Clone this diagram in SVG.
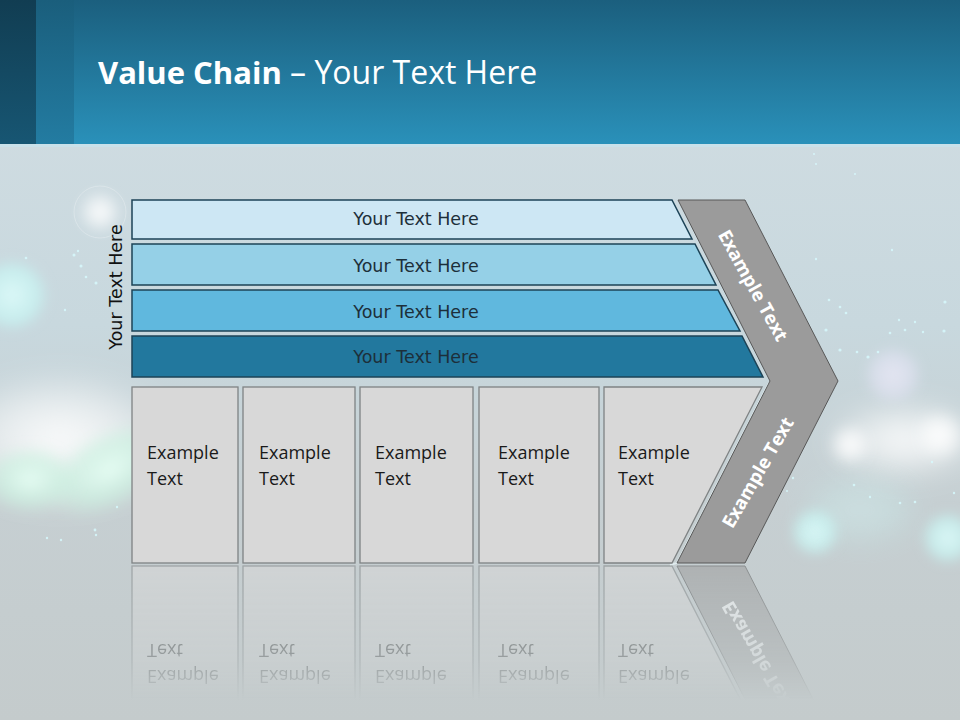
<svg xmlns="http://www.w3.org/2000/svg" xmlns:xlink="http://www.w3.org/1999/xlink" width="960" height="720" viewBox="0 0 960 720">
  <defs>
    <linearGradient id="bg" x1="0" y1="0" x2="0" y2="1">
      <stop offset="0" stop-color="#d3dee3"/>
      <stop offset="0.45" stop-color="#c8d8de"/>
      <stop offset="0.7" stop-color="#c6cfd2"/>
      <stop offset="1" stop-color="#c4cbcc"/>
    </linearGradient>
    <linearGradient id="banner" x1="0" y1="0" x2="0" y2="1">
      <stop offset="0" stop-color="#1b5f7e"/>
      <stop offset="1" stop-color="#2a91ba"/>
    </linearGradient>
    <linearGradient id="strip1" x1="0" y1="0" x2="0" y2="1">
      <stop offset="0" stop-color="#113d52"/>
      <stop offset="1" stop-color="#175673"/>
    </linearGradient>
    <linearGradient id="strip2" x1="0" y1="0" x2="0" y2="1">
      <stop offset="0" stop-color="#1a5e7c"/>
      <stop offset="1" stop-color="#237ca2"/>
    </linearGradient>
    <radialGradient id="glowW">
      <stop offset="0" stop-color="#ffffff" stop-opacity="0.95"/>
      <stop offset="0.6" stop-color="#ffffff" stop-opacity="0.5"/>
      <stop offset="1" stop-color="#ffffff" stop-opacity="0"/>
    </radialGradient>
    <radialGradient id="glowC">
      <stop offset="0" stop-color="#dffcfb" stop-opacity="0.9"/>
      <stop offset="0.75" stop-color="#c6f5f3" stop-opacity="0.7"/>
      <stop offset="1" stop-color="#c6f5f3" stop-opacity="0"/>
    </radialGradient>
    <radialGradient id="glowG">
      <stop offset="0" stop-color="#e6fff4" stop-opacity="0.9"/>
      <stop offset="0.6" stop-color="#c9f3e0" stop-opacity="0.6"/>
      <stop offset="1" stop-color="#c9f3e0" stop-opacity="0"/>
    </radialGradient>
    <radialGradient id="glowV">
      <stop offset="0" stop-color="#eceaf8" stop-opacity="0.8"/>
      <stop offset="0.8" stop-color="#e4e4f6" stop-opacity="0.5"/>
      <stop offset="1" stop-color="#e4e4f6" stop-opacity="0"/>
    </radialGradient>
    <filter id="blur" x="-50%" y="-50%" width="200%" height="200%">
      <feGaussianBlur stdDeviation="6"/>
    </filter>
    <filter id="blur2" x="-50%" y="-50%" width="200%" height="200%">
      <feGaussianBlur stdDeviation="14"/>
    </filter>
    <linearGradient id="fade" x1="0" y1="565" x2="0" y2="700" gradientUnits="userSpaceOnUse">
      <stop offset="0" stop-color="#fff" stop-opacity="0.55"/>
      <stop offset="0.7" stop-color="#fff" stop-opacity="0.25"/>
      <stop offset="1" stop-color="#fff" stop-opacity="0"/>
    </linearGradient>
    <mask id="reflMask" maskUnits="userSpaceOnUse" x="0" y="560" width="960" height="160">
      <rect x="0" y="560" width="960" height="160" fill="url(#fade)"/>
    </mask>
    <style>
      .bar { stroke: #1c4357; stroke-width: 1.5; }
      .barTxt { font-family: "DejaVu Sans", Verdana, sans-serif; font-size: 17.5px; fill: #1d2f3a; text-anchor: middle; }
      .box { fill: #d8d8d8; stroke: #7f8384; stroke-width: 1.3; }
      .boxTxt { font-family: "Open Sans", "Liberation Sans", sans-serif; font-size: 18px; fill: #1a1a1a; }
      .chev { fill: #9b9b9b; stroke: #585858; stroke-width: 1; }
      .chevTxt { font-family: "Open Sans", "Liberation Sans", sans-serif; font-size: 18.5px; font-weight: bold; fill: #ffffff; text-anchor: middle; }
      .dot { fill: #d8fbff; }
    </style>
  </defs>

  <!-- background -->
  <rect x="0" y="0" width="960" height="720" fill="url(#bg)"/>
  <g id="bokeh">
    <ellipse cx="60" cy="440" rx="120" ry="70" fill="url(#glowW)" filter="url(#blur2)"/>
    <ellipse cx="110" cy="470" rx="70" ry="40" fill="url(#glowG)" filter="url(#blur)" transform="rotate(-30 110 470)"/>
    <ellipse cx="30" cy="480" rx="50" ry="35" fill="url(#glowG)" filter="url(#blur)"/>
    <circle cx="12" cy="295" r="36" fill="url(#glowC)" filter="url(#blur)"/>
    <circle cx="100" cy="212" r="22" fill="url(#glowW)" filter="url(#blur)"/>
    <circle cx="100" cy="212" r="26" fill="none" stroke="#ffffff" stroke-opacity="0.25" stroke-width="1"/>
    <ellipse cx="905" cy="440" rx="80" ry="40" fill="url(#glowW)" filter="url(#blur2)"/>
    <circle cx="850" cy="445" r="22" fill="url(#glowW)" filter="url(#blur)"/>
    <circle cx="940" cy="435" r="26" fill="url(#glowW)" filter="url(#blur)"/>
    <circle cx="893" cy="375" r="28" fill="url(#glowV)" filter="url(#blur)"/>
    <circle cx="815" cy="532" r="24" fill="url(#glowC)" filter="url(#blur)"/>
    <circle cx="948" cy="538" r="26" fill="url(#glowC)" filter="url(#blur)"/>
    <ellipse cx="860" cy="510" rx="60" ry="35" fill="url(#glowC)" opacity="0.4" filter="url(#blur2)"/>
    <g class="dot" opacity="0.8">
      <circle cx="26" cy="258" r="1.3"/><circle cx="74" cy="255" r="1.5"/><circle cx="81" cy="266" r="1.5"/>
      <circle cx="86" cy="277" r="1.3"/><circle cx="96" cy="283" r="1.5"/><circle cx="78" cy="251" r="1.2"/>
      <circle cx="65" cy="310" r="1.2"/><circle cx="117" cy="507" r="1.2"/><circle cx="95" cy="530" r="1.4"/>
      <circle cx="96" cy="535" r="1.2"/><circle cx="61" cy="540" r="1.2"/><circle cx="47" cy="538" r="1.2"/>
      <circle cx="829" cy="300" r="1.3"/><circle cx="840" cy="307" r="1.3"/><circle cx="846" cy="313" r="1.3"/>
      <circle cx="826" cy="330" r="1.6"/><circle cx="840" cy="350" r="1.6"/><circle cx="857" cy="352" r="1.3"/>
      <circle cx="868" cy="357" r="1.6"/><circle cx="878" cy="352" r="1.3"/><circle cx="890" cy="333" r="1.3"/>
      <circle cx="905" cy="330" r="1.3"/><circle cx="923" cy="332" r="1.2"/><circle cx="945" cy="302" r="1.6"/>
      <circle cx="944" cy="331" r="1.6"/><circle cx="915" cy="322" r="1.2"/><circle cx="899" cy="320" r="1.2"/>
      <circle cx="816" cy="259" r="1.2"/><circle cx="892" cy="250" r="1.2"/><circle cx="855" cy="174" r="1"/>
      <circle cx="816" cy="164" r="1"/><circle cx="814" cy="154" r="1"/>
      <circle cx="854" cy="485" r="1.3"/><circle cx="900" cy="503" r="1.3"/><circle cx="915" cy="502" r="1.3"/>
      <circle cx="793" cy="478" r="1.2"/><circle cx="787" cy="491" r="1.1"/><circle cx="932" cy="462" r="1.2"/>
      <circle cx="954" cy="493" r="1.2"/><circle cx="870" cy="497" r="1.2"/>
    </g>
  </g>

  <!-- title banner -->
  <g id="banner">
    <rect x="0" y="0" width="960" height="145" fill="url(#banner)"/>
    <rect x="0" y="0" width="36" height="145" fill="url(#strip1)"/>
    <rect x="36" y="0" width="38" height="145" fill="url(#strip2)"/>
    <rect x="0" y="144" width="960" height="3" fill="#c9e1ea"/>
    <text x="98" y="84" font-family="'Open Sans', 'Liberation Sans', sans-serif" font-size="31" fill="#ffffff"><tspan font-weight="bold">Value Chain</tspan><tspan font-size="32"> – Your Text Here</tspan></text>
  </g>

  <!-- vertical label -->
  <g id="axis-label">
    <text x="116" y="287" transform="rotate(-90 116 287)" font-family="'DejaVu Sans', Verdana, sans-serif" font-size="17.5" fill="#111111" text-anchor="middle" dominant-baseline="central">Your Text Here</text>
  </g>

  <g id="diagram">
    <!-- bars -->
    <g id="bar1">
      <polygon class="bar" points="132,200 672,200 692,239 132,239" fill="#cde7f4"/>
      <text class="barTxt" x="416" y="225">Your Text Here</text>
    </g>
    <g id="bar2">
      <polygon class="bar" points="132,244 695,244 716,285 132,285" fill="#95d0e7"/>
      <text class="barTxt" x="416" y="272">Your Text Here</text>
    </g>
    <g id="bar3">
      <polygon class="bar" points="132,290 718,290 740,331 132,331" fill="#60b8de"/>
      <text class="barTxt" x="416" y="318">Your Text Here</text>
    </g>
    <g id="bar4">
      <polygon class="bar" points="132,336 742,336 763,377 132,377" fill="#22789e"/>
      <text class="barTxt" x="416" y="363">Your Text Here</text>
    </g>

    <!-- chevron -->
    <g id="chevron">
      <polyline points="670,565 677,563 769,383" fill="none" stroke="#e6f2f5" stroke-width="2" opacity="0.8"/>
      <polygon class="chev" points="678,200 745,200 838,381 745,563 677,563 770,381"/>
      <text class="chevTxt" x="754" y="285" transform="rotate(61 754 285)" dominant-baseline="central">Example Text</text>
      <text class="chevTxt" x="757" y="472" transform="rotate(-60 757 472)" dominant-baseline="central">Example Text</text>
    </g>

    <!-- boxes -->
    <g id="boxes">
      <g id="box1">
        <rect class="box" x="132" y="387" width="106" height="176"/>
        <text class="boxTxt" x="147" y="459">Example</text>
        <text class="boxTxt" x="147" y="485">Text</text>
      </g>
      <g id="box2">
        <rect class="box" x="243" y="387" width="112" height="176"/>
        <text class="boxTxt" x="259" y="459">Example</text>
        <text class="boxTxt" x="259" y="485">Text</text>
      </g>
      <g id="box3">
        <rect class="box" x="360" y="387" width="113" height="176"/>
        <text class="boxTxt" x="375" y="459">Example</text>
        <text class="boxTxt" x="375" y="485">Text</text>
      </g>
      <g id="box4">
        <rect class="box" x="479" y="387" width="120" height="176"/>
        <text class="boxTxt" x="498" y="459">Example</text>
        <text class="boxTxt" x="498" y="485">Text</text>
      </g>
      <g id="box5">
        <polygon class="box" points="604,387 762,387 672,563 604,563"/>
        <text class="boxTxt" x="618" y="459">Example</text>
        <text class="boxTxt" x="618" y="485">Text</text>
      </g>
    </g>
  </g>

  <!-- reflection -->
  <g id="reflection" mask="url(#reflMask)">
    <g transform="translate(0,1129) scale(1,-1)">
      <use xlink:href="#boxes"/>
      <polygon class="chev" points="745,563 677,563 770,381 838,381"/>
      <text class="chevTxt" x="757" y="472" transform="rotate(-60 757 472)" dominant-baseline="central">Example Text</text>
    </g>
  </g>
</svg>
